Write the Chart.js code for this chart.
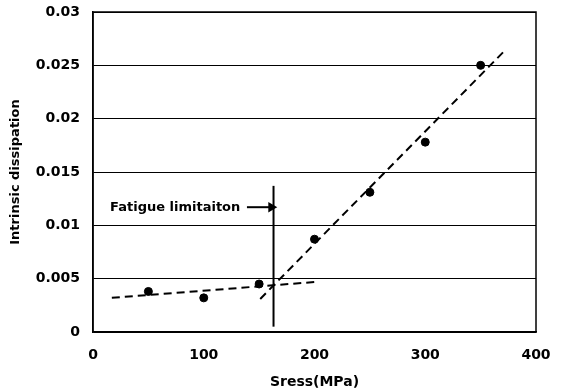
<!DOCTYPE html>
<html>
<head>
<meta charset="utf-8">
<script src="https://cdn.jsdelivr.net/npm/chart.js@4"></script>
<style>
  html, body { margin: 0; padding: 0; background: #fff; }
  #wrap { width: 563px; height: 391px; }
</style>
</head>
<body>
<div id="wrap"><canvas id="myChart"></canvas></div>
<script>
// measured points
const stress = [50, 100, 150, 200, 250, 300, 350];
const dissipation = [0.0038, 0.0032, 0.0045, 0.0087, 0.0131, 0.0178, 0.025];

// fitted lines
const lowFitX = [17, 202];
const lowFitY = [0.0032, 0.0047];
const highFitX = [151, 371];
const highFitY = [0.0031, 0.0263];

// fatigue limit marker
const limitX = [163, 163];
const limitY = [0.0005, 0.0137];
const arrowX = [139, 161];
const arrowY = [0.0117, 0.0117];

const yTicks = [0, 0.005, 0.01, 0.015, 0.02, 0.025, 0.03];

const pts = (xs, ys) => xs.map((x, i) => ({ x: x, y: ys[i] }));

const boxPlugin = {
  id: "box",
  afterDraw(chart) {
    const { ctx, chartArea: a, scales } = chart;
    ctx.save();
    ctx.strokeStyle = "#000";
    ctx.lineWidth = 1.5;
    ctx.strokeRect(a.left, a.top, a.right - a.left, a.bottom - a.top);
    // annotation text
    ctx.fillStyle = "#000";
    ctx.font = "bold 13px 'DejaVu Sans'";
    ctx.textAlign = "right";
    ctx.textBaseline = "middle";
    ctx.fillText("Fatigue limitaiton", scales.x.getPixelForValue(133), scales.y.getPixelForValue(0.0117));
    ctx.restore();
  }
};

Chart.register(boxPlugin);

const ctx = document.getElementById("myChart").getContext("2d");
const myChart = new Chart(ctx, {
  type: "scatter",
  data: {
    datasets: [
      {
        label: "data",
        data: pts(stress, dissipation),
        backgroundColor: "#000",
        borderColor: "#000",
        pointRadius: 4,
      },
      {
        label: "low fit",
        data: pts(lowFitX, lowFitY),
        showLine: true,
        borderColor: "#000",
        borderWidth: 2,
        borderDash: [8, 5],
        pointRadius: 0,
      },
      {
        label: "high fit",
        data: pts(highFitX, highFitY),
        showLine: true,
        borderColor: "#000",
        borderWidth: 2,
        borderDash: [8, 5],
        pointRadius: 0,
      },
      {
        label: "limit",
        data: pts(limitX, limitY),
        showLine: true,
        borderColor: "#000",
        borderWidth: 2,
        pointRadius: 0,
      },
      {
        label: "arrow",
        data: pts(arrowX, arrowY),
        showLine: true,
        borderColor: "#000",
        backgroundColor: "#000",
        borderWidth: 2,
        pointStyle: "triangle",
        rotation: 90,
        pointRadius: [0, 4],
      },
    ],
  },
  options: {
    responsive: true,
    maintainAspectRatio: false,
    animation: false,
    layout: { padding: { left: 0, right: 27, top: 12, bottom: 0 } },
    plugins: {
      legend: { display: false },
      tooltip: { enabled: false },
    },
    scales: {
      x: {
        type: "linear",
        min: 0,
        max: 400,
        afterFit: (s) => { s.height = 59; s.paddingLeft = 0; s.paddingRight = 0; },
        ticks: {
          stepSize: 100,
          color: "#000",
          padding: 15,
          font: { family: "DejaVu Sans", size: 14, weight: "bold" },
        },
        grid: { display: false, drawTicks: false },
        border: { color: "#000", width: 1.5 },
        title: {
          display: true,
          text: "Sress(MPa)",
          color: "#000",
          font: { family: "DejaVu Sans", size: 14, weight: "bold" },
          padding: { top: 0, bottom: 0 },
        },
      },
      y: {
        min: 0,
        max: 0.03,
        afterFit: (s) => { s.width = 93; s.paddingTop = 0; s.paddingBottom = 0; },
        afterBuildTicks: (s) => { s.ticks = yTicks.map((v) => ({ value: v })); },
        ticks: {
          color: "#000",
          padding: 13,
          font: { family: "DejaVu Sans", size: 14, weight: "bold" },
          callback: (v) => String(v),
        },
        grid: { color: "#000", lineWidth: 1, drawTicks: false },
        border: { color: "#000", width: 1.5 },
        title: {
          display: true,
          text: "Intrinsic dissipation",
          color: "#000",
          font: { family: "DejaVu Sans", size: 13, weight: "bold" },
          padding: { top: 8, bottom: 4 },
        },
      },
    },
  },
});
</script>
</body>
</html>
